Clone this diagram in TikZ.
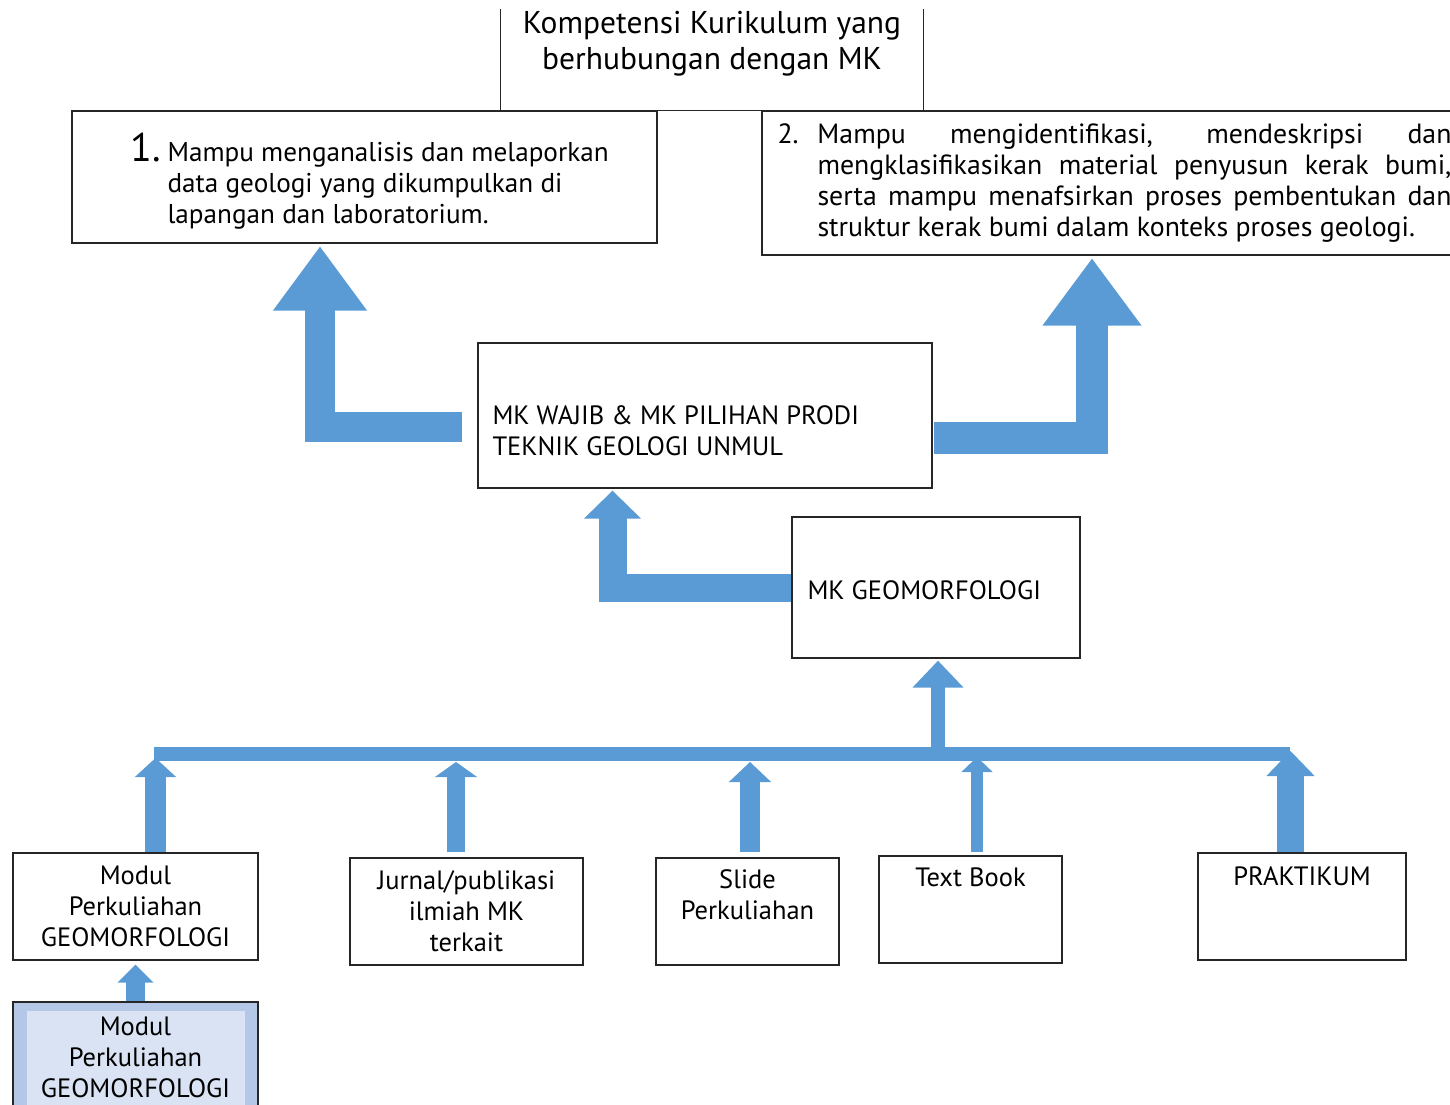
\documentclass[tikz,border=0pt]{standalone}
\usepackage{fontspec}
\setmainfont{PT Sans}
\usetikzlibrary{positioning,arrows.meta}

\definecolor{arrowblue}{HTML}{5B9BD5}
\definecolor{boxedge}{HTML}{262626}
\definecolor{hlouter}{HTML}{B4C7E7}
\definecolor{hlinner}{HTML}{DAE3F3}

\tikzset{
  box/.style={draw=boxedge, line width=1.4pt, fill=white, inner sep=0pt},
  txt/.style={font=\fontsize{26.5}{31}\selectfont, inner sep=0pt, align=center},
  blockarrow/.style n args={3}{draw=arrowblue, line width=#1, line join=miter,
    -{Triangle[width=#2, length=#3, line width=1.5pt]}},
  busbar/.style={draw=arrowblue, line width=14pt}
}

\begin{document}
\begin{tikzpicture}[x=1pt, y=-1pt]
  \useasboundingbox (0,0) rectangle (1450,1104);
  \clip (0,0) rectangle (1450,1104);

  % competence boxes
  \node[box, draw=none, minimum width=422pt, minimum height=100pt] (kompetensi) at (712,60) {};
  \draw[boxedge, line width=1.4pt] (kompetensi.north west) |- (kompetensi.south east) -- (kompetensi.north east);
  \node[txt, font=\fontsize{31.5}{36}\selectfont] (kompetensitxt) at ([yshift=16pt]kompetensi.center)
    {Kompetensi Kurikulum yang\\ berhubungan dengan MK};

  \node[box, minimum width=585pt, minimum height=132pt] (komp1) at (364.5,177) {};
  \node[txt, font=\fontsize{27.2}{31}\selectfont, align=left, anchor=west] (komp1txt) at ([xshift=96pt, yshift=-4pt]komp1.west)
    {\llap{\fontsize{40}{40}\selectfont 1.\,}Mampu menganalisis dan melaporkan\\
     data geologi yang dikumpulkan di\\ lapangan dan laboratorium.};

  \node[box, minimum width=708pt, minimum height=144pt] (komp2) at (1116,183) {};
  \node[txt, font=\fontsize{27.8}{31}\selectfont, align=justify, text width=634pt, anchor=west] (komp2txt) at ([xshift=56pt]komp2.west)
    {\llap{\makebox[40pt][l]{2.}}Mampu mengidentifikasi, mendeskripsi dan\linebreak
     mengklasifikasikan material penyusun kerak bumi,\linebreak
     serta mampu menafsirkan proses pembentukan dan\linebreak
     struktur kerak bumi dalam konteks proses geologi.};

  % course boxes
  \node[box, minimum width=454pt, minimum height=145pt] (wajib) at (705,415.5) {};
  \node[txt, align=left, anchor=west] (wajibtxt) at ([xshift=15pt, yshift=-15pt]wajib.west)
    {MK WAJIB \& MK PILIHAN PRODI\\ TEKNIK GEOLOGI UNMUL};

  \node[box, minimum width=288pt, minimum height=141pt] (geomorf) at (936,587.5) {};
  \node[txt, anchor=west] (geomorftxt) at ([xshift=16pt, yshift=-3pt]geomorf.west) {MK GEOMORFOLOGI};

  % source boxes
  \node[box, minimum width=245pt, minimum height=107pt] (modul) at (135.5,906.5) {};
  \node[txt] (modultxt) at (modul.center) {Modul\\ Perkuliahan\\ GEOMORFOLOGI};

  \node[box, minimum width=233pt, minimum height=107pt] (jurnal) at (466.5,911.5) {};
  \node[txt] (jurnaltxt) at (jurnal.center) {Jurnal/publikasi\\ ilmiah MK\\ terkait};

  \node[box, minimum width=183pt, minimum height=107pt] (slide) at (747.5,911.5) {};
  \node[txt, below=12pt of slide.north] (slidetxt) {Slide\\ Perkuliahan};

  \node[box, minimum width=183pt, minimum height=107pt] (textbook) at (970.5,909.5) {};
  \node[txt, below=12pt of textbook.north] (textbooktxt) {Text Book};

  \node[box, minimum width=208pt, minimum height=107pt] (praktikum) at (1302,906.5) {};
  \node[txt, below=14pt of praktikum.north] (praktikumtxt) {PRAKTIKUM};

  \node[box, fill=hlouter, minimum width=245pt, minimum height=118pt] (modulhl) at (135.5,1061) {};
  \fill[hlinner] ([xshift=15pt, yshift=-10pt]modulhl.north west) rectangle ([xshift=-14pt]modulhl.south east);
  \node[txt, below=15pt of modulhl.north] (modulhltxt) {Modul\\ Perkuliahan\\ GEOMORFOLOGI};

  % block arrows
  \draw[blockarrow={30pt}{94pt}{64pt}] ([shift={(-15pt,-11pt)}]wajib.west) -| ([xshift=-44.5pt, yshift=-3pt]komp1.south);
  \draw[blockarrow={32pt}{99pt}{67pt}] ([shift={(1pt,-22.5pt)}]wajib.east) -| ([xshift=-24pt, yshift=-3pt]komp2.south);
  \draw[blockarrow={28pt}{57pt}{28pt}] (geomorf.west) -| ([xshift=-92.5pt, yshift=-2pt]wajib.south);

  % collecting bar
  \coordinate (barL) at (154,754);
  \coordinate (barR) at (1290,754);
  \coordinate (barjoin) at (938,754);
  \draw[busbar] (barL) -- (barR);
  \draw[blockarrow={14pt}{51pt}{27pt}] ([yshift=-7pt]barjoin) -- ([xshift=2pt, yshift=-2pt]geomorf.south);

  \coordinate (tipmodul) at (155.5,758);
  \coordinate (tipjurnal) at (456,762);
  \coordinate (tipslide) at (750,762);
  \coordinate (tiptextbook) at (977,757);
  \coordinate (tippraktikum) at (1290.5,751);
  \draw[blockarrow={21pt}{41pt}{19pt}] ([xshift=20pt]modul.north) -- (tipmodul);
  \draw[blockarrow={18pt}{42pt}{15pt}] ([shift={(-10.5pt,5pt)}]jurnal.north) -- (tipjurnal);
  \draw[blockarrow={20pt}{42pt}{20pt}] ([shift={(2.5pt,5pt)}]slide.north) -- (tipslide);
  \draw[blockarrow={12pt}{31pt}{15pt}] ([shift={(6.5pt,3pt)}]textbook.north) -- (tiptextbook);
  \draw[blockarrow={27pt}{48pt}{25pt}] ([xshift=-11.5pt]praktikum.north) -- (tippraktikum);

  \draw[blockarrow={19pt}{36pt}{18pt}] (modulhl.north) -- ([yshift=-4pt]modul.south);
\end{tikzpicture}
\end{document}
